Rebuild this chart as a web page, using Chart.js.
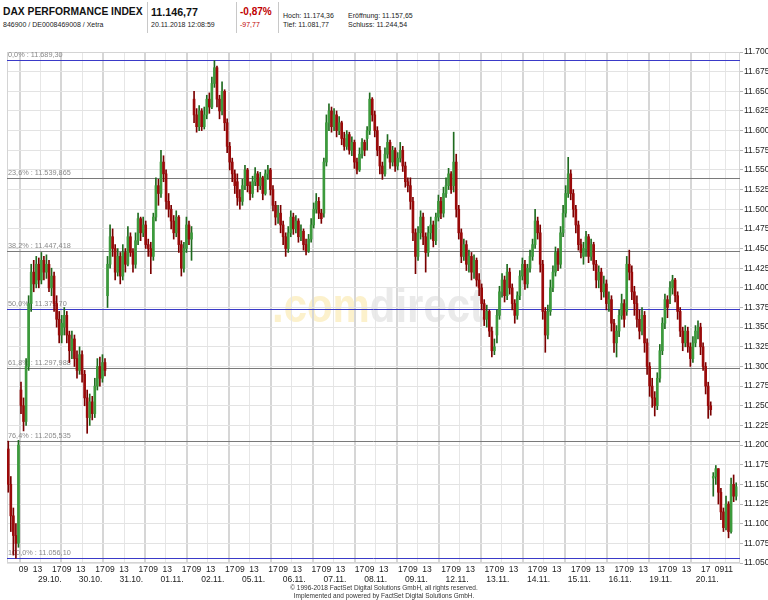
<!DOCTYPE html>
<html>
<head>
<meta charset="utf-8">
<script src="https://cdn.jsdelivr.net/npm/chart.js@4.4.0/dist/chart.umd.min.js"></script>
<style>
  body { margin: 0; width: 768px; height: 600px; background: #fff; position: relative; overflow: hidden;
         font-family: 'Liberation Sans', Arial, sans-serif; color: #222; }
  .t { position: absolute; white-space: nowrap; line-height: 1; }
  .sep { position: absolute; top: 2px; height: 31px; width: 1px; background: #c8c8c8; }
  #c { position: absolute; left: 0; top: 40px; }
  .foot { position: absolute; left: 0; width: 768px; text-align: center; font-size: 6.5px; line-height: 1; color: #333; }
</style>
</head>
<body>
<div class="t" style="left:3px;top:7px;font-size:10.3px;font-weight:bold;color:#111">DAX PERFORMANCE INDEX</div>
<div class="t" style="left:3px;top:21px;font-size:7px">846900 / DE0008469008 / Xetra</div>
<div class="sep" style="left:147px"></div>
<div class="t" style="left:151px;top:6.5px;font-size:10.7px;font-weight:bold;color:#111">11.146,77</div>
<div class="t" style="left:151px;top:21px;font-size:7px">20.11.2018 12:08:59</div>
<div class="sep" style="left:236px"></div>
<div class="t" style="left:240px;top:7px;font-size:10px;font-weight:bold;color:#c00000">-0,87%</div>
<div class="t" style="left:240px;top:21px;font-size:7px;color:#c00000">-97,77</div>
<div class="sep" style="left:278px"></div>
<div class="t" style="left:283px;top:11.5px;font-size:7px">Hoch: 11.174,36</div>
<div class="t" style="left:348px;top:11.5px;font-size:7px">Eröffnung: 11.157,65</div>
<div class="t" style="left:283px;top:20.5px;font-size:7px">Tief: 11.081,77</div>
<div class="t" style="left:348px;top:20.5px;font-size:7px">Schluss: 11.244,54</div>

<canvas id="c" width="768" height="546"></canvas>

<div class="foot" style="top:585px">© 1996-2018 FactSet Digital Solutions GmbH, all rights reserved.</div>
<div class="foot" style="top:593px">Implemented and powered by FactSet Digital Solutions GmbH.</div>

<script>
// trading sessions shown (first one is only the tail of 26.10.)
const sessionDates = ['26.10.', '29.10.', '30.10.', '31.10.', '01.11.', '02.11.', '05.11.', '06.11.', '07.11.',
  '08.11.', '09.11.', '12.11.', '13.11.', '14.11.', '15.11.', '16.11.', '19.11.', '20.11.'];
const sessionBars = [5, 17, 17, 17, 17, 17, 17, 17, 17, 17, 17, 17, 17, 17, 17, 17, 17, 10];
const sessionOpens = [11195, 11270, 11350, 11390, 11450, 11640, 11535, 11495, 11495, 11590, 11530, 11530,
  11340, 11470, 11440, 11370, 11390, 11158];

// 30 min candles, one line per session
const closes = [
  11150, 11110, 11085, 11075, 11200,
  11250, 11230, 11300, 11380, 11420, 11405, 11430, 11410, 11435, 11420, 11430, 11400, 11415, 11380, 11360, 11340, 11355,
  11365, 11340, 11320, 11335, 11310, 11295, 11315, 11290, 11260, 11235, 11255, 11240, 11275, 11300, 11285, 11305, 11295,
  11430, 11465, 11450, 11420, 11440, 11415, 11445, 11430, 11465, 11445, 11430, 11460, 11488, 11470, 11480, 11455, 11450,
  11440, 11490, 11530, 11520, 11560, 11545, 11510, 11500, 11485, 11470, 11490, 11455, 11425, 11450, 11480, 11462, 11470,
  11620, 11605, 11625, 11605, 11620, 11640, 11630, 11660, 11680, 11640, 11625, 11650, 11610, 11580, 11560, 11545, 11530,
  11515, 11510, 11530, 11550, 11530, 11520, 11535, 11545, 11530, 11540, 11520, 11545, 11550, 11525, 11505, 11490, 11495,
  11480, 11465, 11450, 11470, 11490, 11475, 11485, 11465, 11472, 11455, 11447, 11462, 11480, 11500, 11510, 11495, 11488,
  11560, 11610, 11625, 11605, 11620, 11600, 11610, 11590, 11580, 11595, 11575, 11585, 11560, 11550, 11570, 11585, 11575,
  11600, 11640, 11620, 11600, 11575, 11555, 11545, 11570, 11585, 11560, 11575, 11555, 11565, 11575, 11555, 11535, 11530,
  11510, 11470, 11440, 11470, 11490, 11465, 11445, 11470, 11480, 11460, 11490, 11510, 11495, 11520, 11530, 11545, 11525,
  11560, 11500, 11470, 11440, 11455, 11430, 11440, 11420, 11435, 11410, 11400, 11380, 11360, 11370, 11345, 11320, 11325,
  11365, 11395, 11410, 11390, 11420, 11400, 11380, 11365, 11390, 11415, 11430, 11405, 11425, 11440, 11455, 11485, 11470,
  11430, 11370, 11340, 11370, 11400, 11420, 11445, 11430, 11470, 11495, 11520, 11545, 11520, 11500, 11480, 11455, 11445,
  11450, 11465, 11440, 11455, 11430, 11410, 11420, 11395, 11405, 11380, 11385, 11355, 11330, 11345, 11365, 11380, 11360,
  11430, 11420, 11395, 11380, 11360, 11345, 11365, 11330, 11300, 11275, 11260, 11250, 11285, 11320, 11355, 11385, 11375,
  11400, 11410, 11390, 11370, 11345, 11330, 11345, 11325, 11310, 11330, 11345, 11350, 11325, 11300, 11275, 11250, 11245,
  11160, 11170, 11140, 11115, 11095, 11125, 11090, 11150, 11135, 11147
];
const highs = [
  11205, 11160, 11120, 11100, 11206,
  11280, 11260, 11310, 11390, 11430, 11435, 11440, 11438, 11445, 11440, 11442, 11435, 11425, 11420, 11390, 11370, 11365,
  11375, 11370, 11345, 11345, 11340, 11320, 11325, 11320, 11295, 11270, 11265, 11262, 11285, 11310, 11312, 11315, 11310,
  11440, 11480, 11475, 11455, 11450, 11445, 11455, 11450, 11478, 11470, 11450, 11470, 11495, 11490, 11490, 11485, 11462,
  11458, 11495, 11540, 11538, 11575, 11568, 11550, 11520, 11505, 11492, 11498, 11492, 11460, 11458, 11490, 11485, 11478,
  11650, 11628, 11632, 11628, 11630, 11645, 11648, 11668, 11689, 11682, 11645, 11662, 11652, 11615, 11585, 11565, 11550,
  11545, 11525, 11538, 11556, 11552, 11535, 11542, 11553, 11548, 11547, 11542, 11550, 11556, 11552, 11530, 11510, 11505,
  11505, 11485, 11470, 11478, 11498, 11495, 11492, 11488, 11480, 11475, 11462, 11468, 11488, 11508, 11520, 11515, 11500,
  11565, 11620, 11634, 11630, 11628, 11625, 11618, 11612, 11598, 11600, 11598, 11592, 11588, 11565, 11578, 11590, 11588,
  11605, 11648, 11642, 11625, 11605, 11580, 11560, 11578, 11595, 11588, 11580, 11578, 11572, 11585, 11580, 11560, 11540,
  11540, 11515, 11475, 11478, 11498, 11495, 11470, 11478, 11490, 11485, 11495, 11518, 11515, 11528, 11540, 11552, 11548,
  11598, 11570, 11505, 11475, 11462, 11460, 11448, 11445, 11442, 11438, 11418, 11405, 11385, 11378, 11372, 11350, 11335,
  11372, 11402, 11418, 11415, 11430, 11425, 11405, 11385, 11395, 11422, 11438, 11435, 11430, 11448, 11462, 11500, 11490,
  11480, 11435, 11375, 11378, 11410, 11428, 11452, 11450, 11478, 11505, 11530, 11566, 11550, 11525, 11505, 11485, 11462,
  11458, 11472, 11468, 11462, 11458, 11435, 11428, 11425, 11415, 11410, 11395, 11390, 11360, 11352, 11372, 11392, 11385,
  11440, 11448, 11428, 11402, 11390, 11372, 11375, 11370, 11335, 11305, 11285, 11268, 11292, 11328, 11362, 11392, 11390,
  11408, 11416, 11412, 11395, 11375, 11350, 11352, 11350, 11330, 11338, 11352, 11358, 11355, 11330, 11305, 11280, 11255,
  11165, 11174, 11170, 11145, 11120, 11135, 11128, 11158, 11162, 11152
];
const lows = [
  11140, 11090, 11060, 11056, 11070,
  11240, 11218, 11225, 11295, 11370, 11395, 11400, 11400, 11405, 11410, 11412, 11395, 11390, 11370, 11350, 11330, 11330,
  11340, 11330, 11305, 11310, 11300, 11285, 11290, 11280, 11250, 11215, 11225, 11232, 11235, 11270, 11275, 11280, 11288,
  11375, 11425, 11440, 11410, 11415, 11405, 11410, 11420, 11428, 11440, 11420, 11425, 11455, 11460, 11465, 11450, 11440,
  11418, 11435, 11485, 11505, 11515, 11535, 11500, 11490, 11475, 11462, 11465, 11445, 11415, 11420, 11445, 11455, 11435,
  11610, 11598, 11600, 11600, 11602, 11615, 11622, 11628, 11655, 11630, 11615, 11620, 11600, 11572, 11550, 11535, 11520,
  11505, 11500, 11505, 11525, 11522, 11512, 11515, 11530, 11522, 11525, 11512, 11518, 11538, 11518, 11498, 11480, 11482,
  11470, 11455, 11440, 11445, 11465, 11468, 11470, 11458, 11460, 11448, 11442, 11445, 11458, 11476, 11495, 11488, 11482,
  11490, 11555, 11600, 11598, 11600, 11592, 11595, 11582, 11575, 11576, 11570, 11568, 11552, 11545, 11548, 11565, 11568,
  11575, 11595, 11612, 11592, 11568, 11545, 11538, 11542, 11565, 11552, 11555, 11548, 11550, 11560, 11548, 11528, 11522,
  11500, 11460, 11418, 11435, 11462, 11455, 11420, 11440, 11462, 11452, 11455, 11485, 11488, 11490, 11515, 11525, 11520,
  11522, 11490, 11462, 11432, 11435, 11422, 11420, 11410, 11412, 11402, 11390, 11372, 11352, 11350, 11338, 11312, 11315,
  11330, 11360, 11388, 11382, 11385, 11392, 11372, 11355, 11360, 11385, 11410, 11398, 11400, 11420, 11435, 11450, 11462,
  11420, 11360, 11318, 11335, 11365, 11395, 11415, 11422, 11425, 11465, 11490, 11515, 11512, 11490, 11470, 11448, 11438,
  11430, 11440, 11432, 11435, 11422, 11400, 11400, 11385, 11388, 11372, 11370, 11345, 11318, 11312, 11338, 11360, 11350,
  11365, 11410, 11385, 11365, 11350, 11335, 11340, 11318, 11290, 11262, 11248, 11237, 11245, 11280, 11315, 11348, 11362,
  11380, 11392, 11382, 11360, 11338, 11320, 11325, 11318, 11300, 11305, 11325, 11335, 11315, 11295, 11265, 11234, 11238,
  11135, 11150, 11125, 11105, 11090, 11092, 11082, 11088, 11128, 11130
];

// Fibonacci retracement levels
const fibPercents = ['0,0%', '23,6%', '38,2%', '50,0%', '61,8%', '76,4%', '100,0%'];
const fibValues = [11689.30, 11539.865, 11447.418, 11372.70, 11297.988, 11205.535, 11056.10];
const fibTexts = ['11.689,30', '11.539,865', '11.447,418', '11.372,70', '11.297,988', '11.205,535', '11.056,10'];

const timeTexts = ['09', '13', '17'];
const lastDayTimeTexts = ['09', '11'];

const FONT = "'Liberation Sans', Arial, sans-serif";
const RED = '#9a0a0a', GREEN = '#3c9a3c';

// build candle points from the arrays
const starts = [];
let pos = -5;
sessionBars.forEach(n => { starts.push(pos); pos += n; });
const bodyData = [], wickData = [], bodyCol = [], wickCol = [];
let k = 0;
sessionBars.forEach((n, s) => {
  for (let j = 0; j < n; j++, k++) {
    const o = j === 0 ? sessionOpens[s] : closes[k - 1];
    const c = closes[k];
    const x = starts[s] + j + 0.5;
    bodyData.push({ x: x, y: [o, c] });
    wickData.push({ x: x, y: [Math.min(lows[k], o, c), Math.max(highs[k], o, c)] });
    bodyCol.push(c >= o ? GREEN : RED);
    wickCol.push(c >= o ? '#1f6b1f' : '#7a0000');
  }
});

// tick positions (session index units, 1 unit = one candle)
const last = sessionBars.length - 1;
const timeTicks = [], dateTicks = [], gridTicks = [];
for (let s = 1; s <= last; s++) {
  const st = starts[s];
  gridTicks.push({ value: st, major: true });
  if (s < last) {
    timeTicks.push({ value: st + 1.5, t: timeTexts[0] });
    timeTicks.push({ value: st + 7.0, t: timeTexts[1] });
    timeTicks.push({ value: st + 14.5, t: timeTexts[2] });
    gridTicks.push({ value: st + 8 });
    dateTicks.push({ value: st + 3.9, t: sessionDates[s] });
  } else {
    timeTicks.push({ value: st + 2.9, t: lastDayTimeTexts[0] });
    timeTicks.push({ value: st + 6.5, t: lastDayTimeTexts[1] });
    gridTicks.push({ value: st + 6.4 });
    dateTicks.push({ value: st + 6.3, t: sessionDates[s] });
  }
}
timeTicks.sort((a, b) => a.value - b.value);

const overlay = {
  id: 'overlay',
  beforeDraw(chart) {
    // comdirect watermark
    const ctx = chart.ctx;
    const ys = chart.scales.y;
    ctx.save();
    ctx.font = 'bold 48px ' + FONT;
    ctx.textBaseline = 'alphabetic';
    const w1 = ctx.measureText('.com').width, w2 = ctx.measureText('direct').width;
    const sx = 212 / (w1 + w2);
    const baseY = ys.getPixelForValue(11356);
    ctx.translate(272, baseY);
    ctx.scale(sx, 1);
    ctx.fillStyle = '#fcf1cc';
    ctx.fillText('.com', 0, 0);
    ctx.fillStyle = '#eaeaea';
    ctx.fillText('direct', w1, 0);
    ctx.restore();
  },
  beforeDatasetsDraw(chart) {
    const ctx = chart.ctx;
    const a = chart.chartArea;
    const ys = chart.scales.y;
    ctx.save();
    ctx.strokeStyle = '#d4d4d4';
    ctx.lineWidth = 1;
    ctx.strokeRect(a.left + 0.5, a.top + 0.5, a.right - a.left - 1, a.bottom - a.top - 1);
    ctx.font = '7.3px ' + FONT;
    ctx.textBaseline = 'bottom';
    fibValues.forEach((v, i) => {
      const y = Math.round(ys.getPixelForValue(v)) + 0.5;
      const blue = fibPercents[i] === '0,0%' || fibPercents[i] === '50,0%' || fibPercents[i] === '100,0%';
      ctx.strokeStyle = blue ? '#3a3ac8' : '#7a7a7a';
      ctx.beginPath();
      ctx.moveTo(a.left, y);
      ctx.lineTo(a.right, y);
      ctx.stroke();
      ctx.fillStyle = '#8a8a8a';
      ctx.fillText(fibPercents[i] + ' : ' + fibTexts[i], a.left + 1, y - 1.5);
    });
    ctx.restore();
  }
};

Chart.defaults.font.family = FONT;

new Chart(document.getElementById('c'), {
  type: 'bar',
  data: {
    datasets: [
      {
        label: 'body',
        data: bodyData,
        backgroundColor: bodyCol,
        barThickness: 2,
        minBarLength: 1,
        grouped: false,
        order: 0
      },
      {
        label: 'wick',
        data: wickData,
        backgroundColor: wickCol,
        barThickness: 1,
        grouped: false,
        order: 1
      }
    ]
  },
  options: {
    responsive: false,
    animation: false,
    events: [],
    layout: { padding: { left: 7, right: 0, top: 12, bottom: 0 } },
    plugins: { legend: { display: false }, tooltip: { enabled: false } },
    scales: {
      x: {
        type: 'linear',
        position: 'bottom',
        weight: 1,
        min: -5,
        max: 283,
        offset: false,
        grid: { display: false, drawTicks: false },
        border: { display: false },
        afterBuildTicks: (axis) => { axis.ticks = timeTicks.map(t => ({ value: t.value })); },
        afterFit: (axis) => { axis.height = 12; },
        ticks: {
          autoSkip: false,
          maxRotation: 0,
          padding: 2,
          color: '#222',
          font: { size: 8.5 },
          callback: (v, i) => timeTicks[i] ? timeTicks[i].t : ''
        }
      },
      xd: {
        type: 'linear',
        position: 'bottom',
        weight: 2,
        min: -5,
        max: 283,
        grid: { display: false, drawTicks: false },
        border: { display: false },
        afterBuildTicks: (axis) => { axis.ticks = dateTicks.map(t => ({ value: t.value })); },
        afterFit: (axis) => { axis.height = 11; },
        ticks: {
          autoSkip: false,
          maxRotation: 0,
          padding: 0,
          color: '#222',
          font: { size: 8.5 },
          callback: (v, i) => dateTicks[i] ? dateTicks[i].t : ''
        }
      },
      xg: {
        type: 'linear',
        position: 'bottom',
        weight: 0,
        min: -5,
        max: 283,
        border: { display: false },
        afterBuildTicks: (axis) => { axis.ticks = gridTicks.map(t => ({ value: t.value, major: !!t.major })); },
        afterFit: (axis) => { axis.height = 0; },
        ticks: { display: false },
        grid: {
          drawTicks: false,
          color: (c) => c.tick && c.tick.major ? '#d6d6d6' : '#e6e6e6',
          lineWidth: (c) => c.tick && c.tick.major ? 2 : 1
        }
      },
      y: {
        type: 'linear',
        position: 'right',
        min: 11050,
        max: 11700,
        afterFit: (axis) => { axis.width = 28; },
        border: { display: false },
        grid: { color: '#e3e3e3', tickLength: 3, tickColor: '#b8b8b8' },
        ticks: {
          stepSize: 25,
          padding: 1,
          color: '#222',
          font: { size: 8.5 },
          callback: (v) => (v / 1000).toFixed(3)
        }
      }
    }
  },
  plugins: [overlay]
});
</script>
</body>
</html>
